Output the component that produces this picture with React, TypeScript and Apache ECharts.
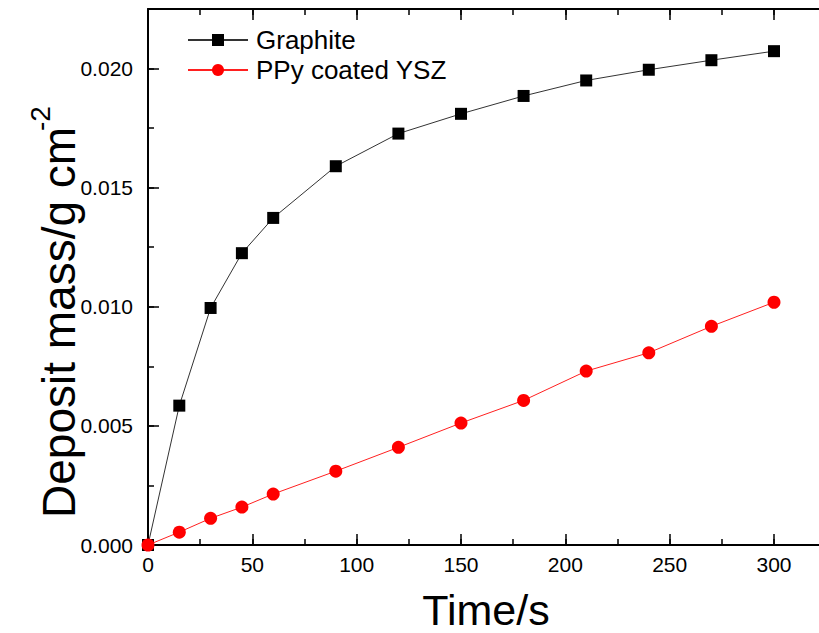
import React, { useEffect, useRef } from "react";
import * as echarts from "echarts";

const timeS = [0, 15, 30, 45, 60, 90, 120, 150, 180, 210, 240, 270, 300];
const graphite = [0, 0.00585, 0.00995, 0.01225, 0.01373, 0.0159, 0.01727, 0.0181, 0.01885, 0.0195, 0.01995, 0.02035, 0.02073];
const ppyYSZ = [0, 0.00054, 0.00112, 0.00159, 0.00214, 0.0031, 0.0041, 0.00512, 0.00607, 0.0073, 0.00807, 0.00918, 0.01019];
const seriesNames = ["Graphite", "PPy coated YSZ"];
const xTitle = "Time/s";
const yTitle = "Deposit mass/g cm";
const yTitleSup = "-2";

const FONT = "'Liberation Sans', Arial, Helvetica, sans-serif";

export default function App() {
  const ref = useRef<HTMLDivElement>(null);
  useEffect(() => {
    if (!ref.current) return;
    const chart = echarts.init(ref.current, null, { renderer: "svg" });
    const axisLine = { show: true, lineStyle: { color: "#000", width: 2 } };
    const mkX = (pos: string, interval: number, major: boolean, labels: boolean) => ({
      type: "value",
      position: pos,
      min: 0,
      max: 330,
      interval,
      axisLine: major ? axisLine : { show: false },
      axisTick: { show: true, inside: true, length: major ? 11 : 6, lineStyle: { color: "#000", width: 1.5 } },
      axisLabel: labels
        ? { show: true, margin: 9, fontSize: 21, color: "#000", fontFamily: FONT, showMaxLabel: false }
        : { show: false },
      splitLine: { show: false },
    });
    const mkY = (interval: number, major: boolean) => ({
      type: "value",
      position: "left",
      min: 0,
      max: 0.0225,
      interval,
      axisLine: major ? axisLine : { show: false },
      axisTick: { show: true, inside: true, length: major ? 11 : 6, lineStyle: { color: "#000", width: 1.5 } },
      axisLabel: major
        ? {
            show: true,
            margin: 15,
            fontSize: 21,
            color: "#000",
            fontFamily: FONT,
            showMaxLabel: false,
            formatter: (v: number) => v.toFixed(3),
          }
        : { show: false },
      splitLine: { show: false },
    });
    chart.setOption({
      animation: false,
      backgroundColor: "#fff",
      grid: { left: 148, top: 9, width: 688.6, height: 536, containLabel: false },
      xAxis: [
        mkX("bottom", 50, true, true),
        mkX("bottom", 25, false, false),
        mkX("top", 50, true, false),
        mkX("top", 25, false, false),
      ],
      yAxis: [mkY(0.005, true), mkY(0.0025, false)],
      legend: {
        orient: "vertical",
        left: 187,
        top: 27,
        padding: 0,
        itemWidth: 60,
        itemHeight: 15,
        itemGap: 4,
        textStyle: { fontSize: 26, color: "#000", fontFamily: FONT, padding: [0, 0, 0, 3] },
        data: seriesNames,
      },
      series: [
        {
          name: seriesNames[0],
          type: "line",
          xAxisIndex: 0,
          yAxisIndex: 0,
          data: timeS.map((t, i) => [t, graphite[i]]),
          symbol: "rect",
          symbolSize: 12,
          itemStyle: { color: "#000" },
          lineStyle: { color: "#333", width: 1 },
        },
        {
          name: seriesNames[1],
          type: "line",
          xAxisIndex: 0,
          yAxisIndex: 0,
          data: timeS.map((t, i) => [t, ppyYSZ[i]]),
          symbol: "circle",
          symbolSize: 13,
          itemStyle: { color: "#ff0000" },
          lineStyle: { color: "#ff2020", width: 1 },
        },
      ],
      graphic: [
        {
          type: "text",
          x: 486,
          y: 610,
          style: { text: xTitle, fontSize: 43, fontFamily: FONT, fill: "#000", textAlign: "center", textVerticalAlign: "middle" },
        },
        {
          type: "text",
          x: 59,
          y: 518,
          rotation: Math.PI / 2,
          style: { text: yTitle, fontSize: 46, fontFamily: FONT, fill: "#000", textAlign: "left", textVerticalAlign: "middle" },
        },
        {
          type: "text",
          x: 40,
          y: 131,
          rotation: Math.PI / 2,
          style: { text: yTitleSup, fontSize: 28, fontFamily: FONT, fill: "#000", textAlign: "left", textVerticalAlign: "middle" },
        },
      ],
    });
    return () => chart.dispose();
  }, []);
  return (
    <div style={{ position: "absolute", left: 0, top: 0, width: 819, height: 633, overflow: "hidden" }}>
      <div ref={ref} style={{ width: 845, height: 633 }} />
    </div>
  );
}
